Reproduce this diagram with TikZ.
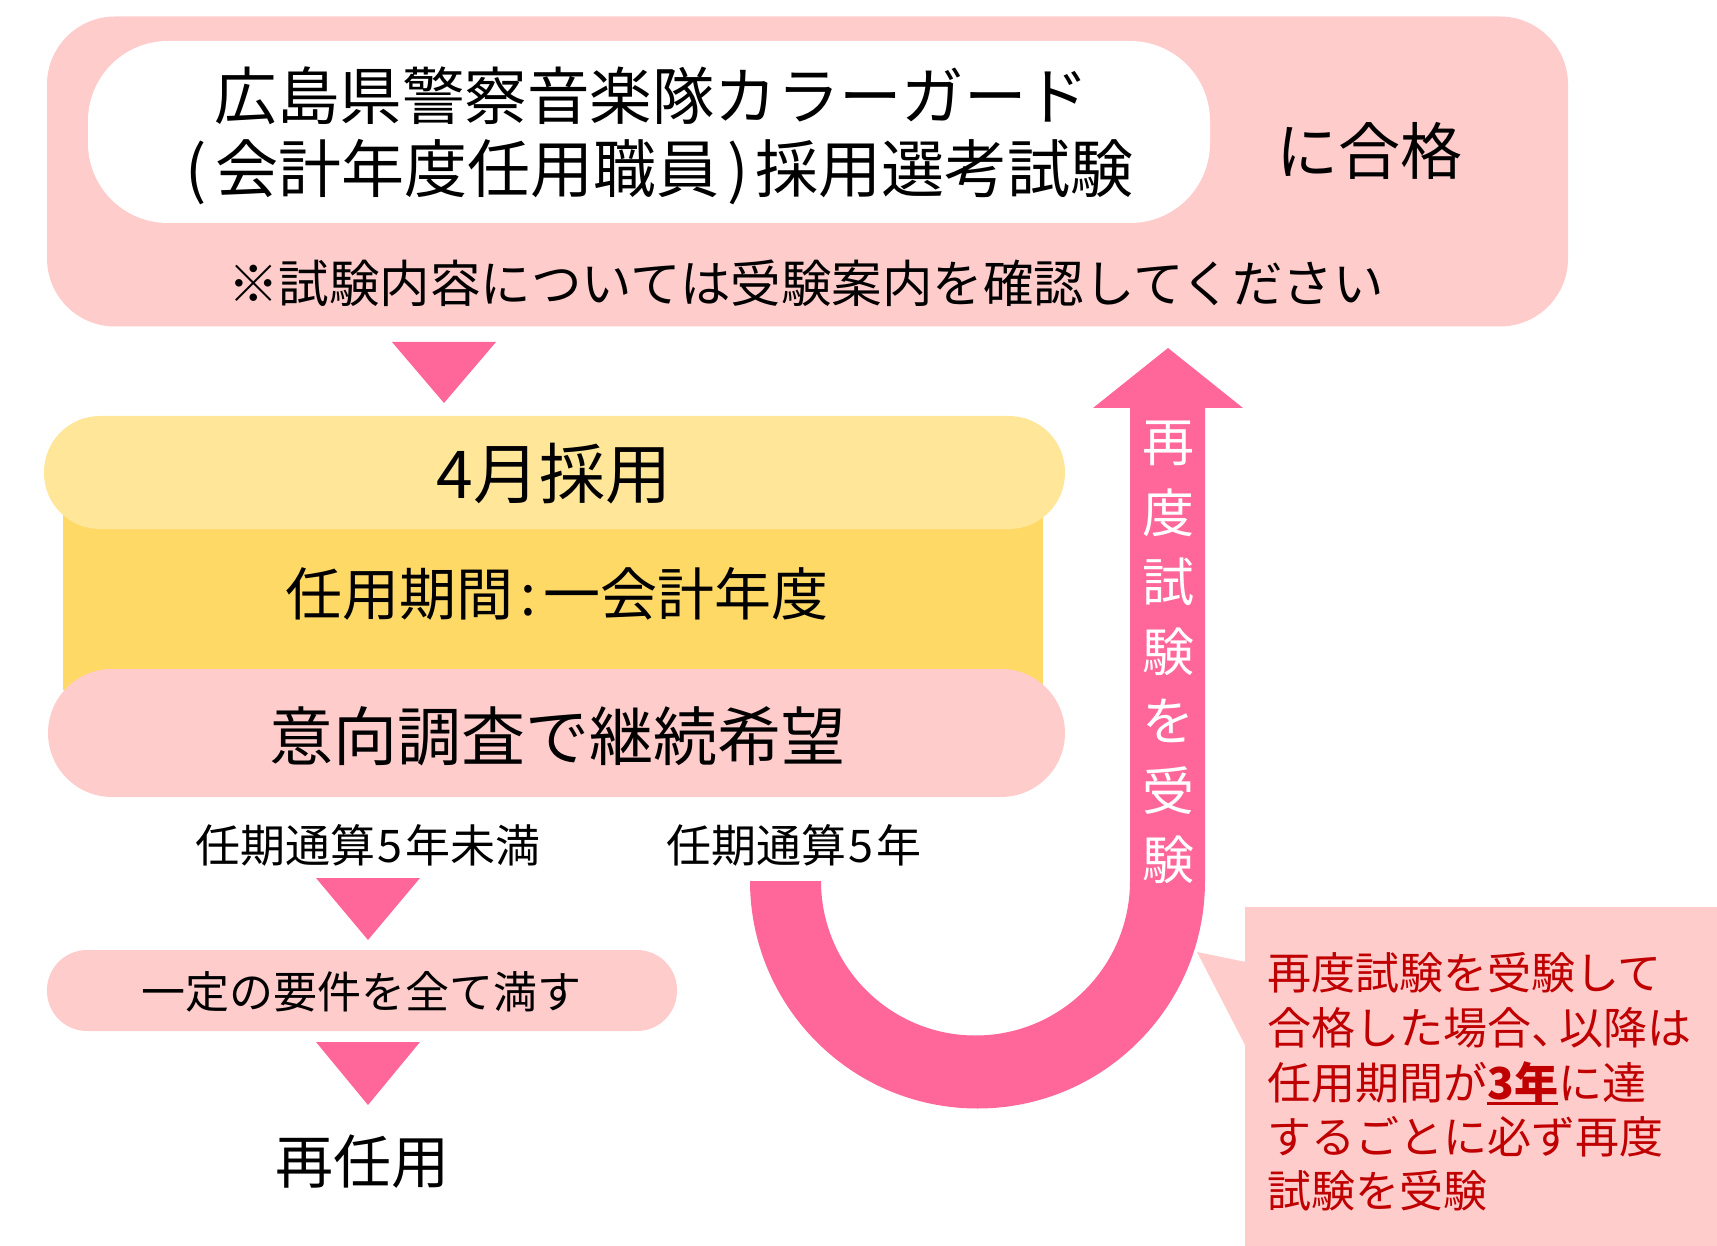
\documentclass[tikz,border=0pt]{standalone}
\usepackage{fontspec}
\setmainfont{Noto Sans CJK JP}
\definecolor{lpink}{HTML}{FFCCCC}
\definecolor{apink}{HTML}{FF6699}
\definecolor{ylight}{HTML}{FFE699}
\definecolor{ydark}{HTML}{FFD966}
\definecolor{cred}{HTML}{C00000}
\newcommand\setfs[1]{\fontsize{#1}{#1}\selectfont}
\newcommand\thickul[1]{\setbox0\hbox{#1}\rlap{\rule[-0.13em]{\wd0}{0.07em}}\box0}
\begin{document}
\begin{tikzpicture}[x=1pt,y=-1pt,
  box/.style={inner sep=0pt, draw=none},
  txt/.style={inner sep=0pt, text=black},
  tri/.style={fill=apink}]
\useasboundingbox (0,0) rectangle (1717,1246);
% top box
\node[box, fill=lpink, rounded corners=68pt, minimum width=1521pt, minimum height=310pt] (topbox) at (807.5,171.5) {};
\node[box, fill=white, rounded corners=80pt, minimum width=1122pt, minimum height=182pt] (exam) at (649,132) {};
\node[txt, font=\setfs{62.5}] (examA) at (652,96) {広島県警察音楽隊カラーガード};
\node[txt, font=\setfs{63}] (examB) at (656,172) {\hspace{0.1em}(\hspace{0.15em}会計年度任用職員\hspace{0.12em})\hspace{0.1em}採用選考試験};
\node[txt, font=\setfs{62}] (pass) at (1369,151) {に合格};
\node[txt, font=\setfs{50.5}] (note) at (806,283) {※試験内容については受験案内を確認してください};
% triangle 1
\fill[tri] (392,342) -- (496,342) -- (444,403) -- cycle;
% yellow block
\fill[ydark] (63,470) rectangle (1043,690);
\node[box, fill=ylight, rounded corners=56pt, minimum width=1021pt, minimum height=113pt] (april) at (554.5,472.5) {};
\node[txt, font=\setfs{66}] (aprilT) at (554,474) {4月採用};
\node[txt, font=\setfs{57}] (term) at (557,594) {任用期間\hspace{0.12em}:\hspace{0.12em}一会計年度};
\node[box, fill=lpink, rounded corners=64pt, minimum width=1017pt, minimum height=128pt] (wish) at (556.5,733) {};
\node[txt, font=\setfs{64}] (wishT) at (557,736) {意向調査で継続希望};
% branches
\node[txt, font=\setfs{45}] (lt5) at (368,845) {任期通算\hspace{0.06em}5\hspace{0.06em}年未満};
\node[txt, font=\setfs{45}] (eq5) at (794,845) {任期通算\hspace{0.06em}5\hspace{0.06em}年};
\fill[tri] (316,878) -- (420,878) -- (368,940) -- cycle;
\node[box, fill=lpink, rounded corners=40pt, minimum width=630pt, minimum height=81pt] (req) at (362,990.5) {};
\node[txt, font=\setfs{44}] (reqT) at (361,992) {一定の要件を全て満す};
\fill[tri] (316,1042) -- (420,1042) -- (368,1105) -- cycle;
\node[txt, font=\setfs{58}] (reapp) at (362,1162) {再任用};
% U arrow
\fill[apink] (750,881) arc[start angle=180, end angle=360, radius=227.5pt]
  -- (1205,408) -- (1243,408) -- (1168,348) -- (1093,408) -- (1130,408) -- (1130,881)
  arc[start angle=360, end angle=180, radius=154.5pt] -- cycle;
\foreach \c [count=\i from 0] in {再,度,試,験,を,受,験}
  \node[txt, text=white, font=\setfs{52}] (v\i) at (1168,443+69.5*\i) {\c};
% callout
\fill[lpink] (1245,907) rectangle (1717,1246);
\fill[lpink] (1197,952) -- (1246,962) -- (1246,1047) -- cycle;
\node[txt, text=cred, font=\setfs{44}, anchor=west] (c1) at (1267,973) {再度試験を受験して};
\node[txt, text=cred, font=\setfs{44}, anchor=west] (c2) at (1267,1028) {合格した場合、\hspace{-0.35em}以降は};
\node[txt, text=cred, font=\setfs{44}, anchor=west] (c3) at (1267,1083) {任用期間が\thickul{\bfseries 3年}に達};
\node[txt, text=cred, font=\setfs{44}, anchor=west] (c4) at (1267,1137) {するごとに必ず再度};
\node[txt, text=cred, font=\setfs{44}, anchor=west] (c5) at (1267,1191) {試験を受験};
\end{tikzpicture}
\end{document}
